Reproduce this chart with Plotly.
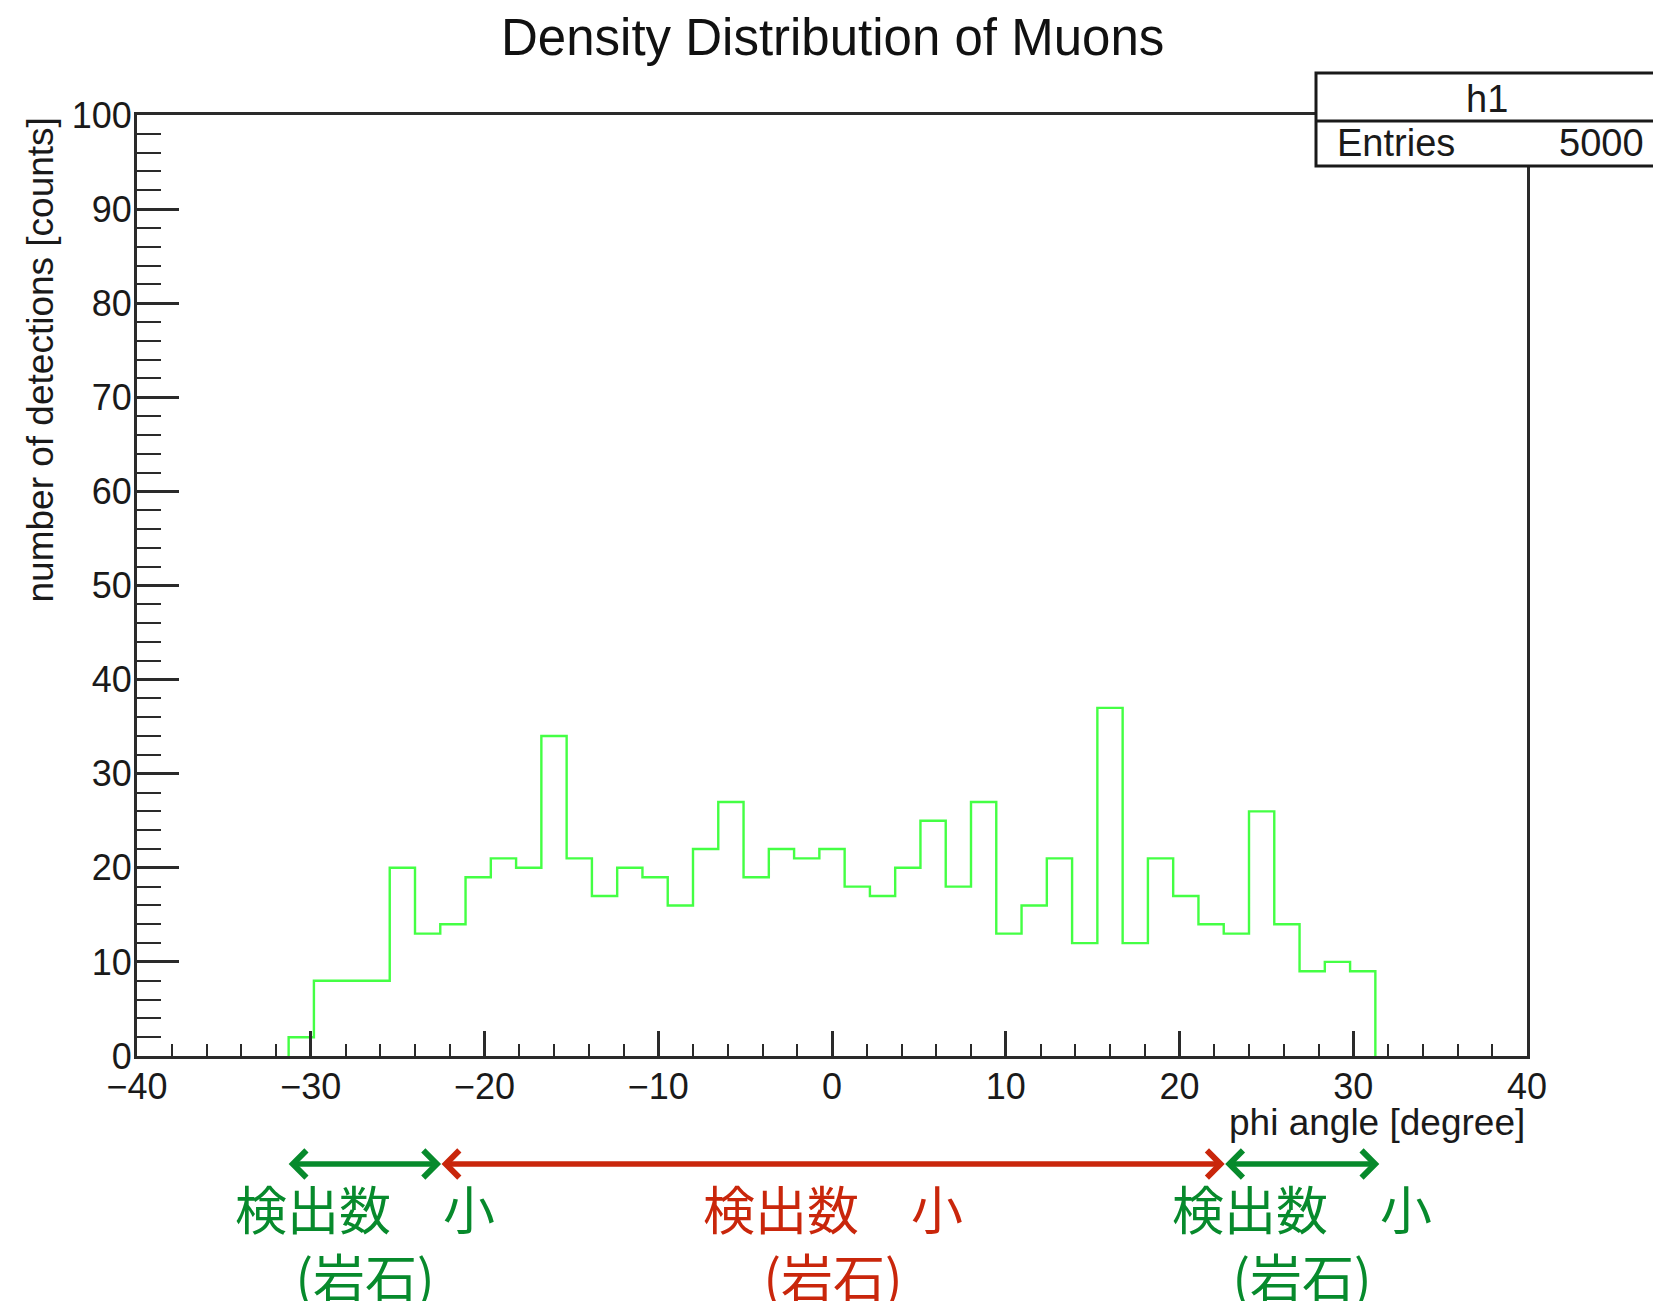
import plotly.graph_objects as go

# ---------------- data ----------------
x_min, x_max, n_bins = -40.0, 40.0, 55      # histogram definition
first_bin = 6                              # index of first non-empty bin
counts = [2, 8, 8, 8, 20, 13, 14, 19, 21, 20, 34, 21, 17, 20, 19, 16, 22, 27,
          19, 22, 21, 22, 18, 17, 20, 25, 18, 27, 13, 16, 21, 12, 37, 12, 21,
          17, 14, 13, 26, 14, 9, 10, 9]
hist_name = "h1"
entries = 5000
title_text = "Density Distribution of Muons"
x_title = "phi angle [degree]"
y_title = "number of detections [counts]"
region_edges = [-31.3, -22.5, 22.6, 31.5]
region_labels = ["検出数　小<br>(岩石)", "検出数　小<br>(岩石)", "検出数　小<br>(岩石)"]
region_colors = ["#078a2c", "#c9260b", "#078a2c"]

# ---------------- geometry ----------------
W, H = 1653, 1301
L, R, T, B = 137, 1527, 115, 1056


def px_x(px):
    return (px - L) / (R - L)


def px_y(py):
    return (B - py) / (B - T)


bw = (x_max - x_min) / n_bins
edges = [x_min + (first_bin + i) * bw for i in range(len(counts) + 1)]
xs = [edges[0]] + edges[:-1] + [edges[-1]]
ys = [0] + counts + [0]

fig = go.Figure()
fig.add_trace(go.Scatter(x=xs, y=ys, mode="lines", line_shape="hv",
                         line=dict(color="#44ff44", width=2.4),
                         hoverinfo="skip", showlegend=False))

axis_col = "#2a2a2a"
tick_font = dict(family="Liberation Sans, Arial, sans-serif", size=36, color="#1a1a1a")
fig.update_xaxes(range=[x_min, x_max], showline=True, linecolor=axis_col, linewidth=3,
                 mirror=True, ticks="inside", ticklen=25, tickwidth=2.5, tickcolor=axis_col,
                 tick0=0, dtick=10, showgrid=False, zeroline=False, tickfont=tick_font,
                 ticklabelstandoff=-3,
                 minor=dict(dtick=2, ticklen=12, tickwidth=2, tickcolor=axis_col,
                            ticks="inside", showgrid=False))
fig.update_yaxes(range=[0, 100], showline=True, linecolor=axis_col, linewidth=3,
                 mirror=True, ticks="inside", ticklen=42, tickwidth=2.5, tickcolor=axis_col,
                 tick0=0, dtick=10, showgrid=False, zeroline=False, tickfont=tick_font,
                 ticklabelstandoff=-5,
                 minor=dict(dtick=2, ticklen=24, tickwidth=2, tickcolor=axis_col,
                            ticks="inside", showgrid=False))

annotations = []
shapes = []
txt_font = "Liberation Sans, Arial, sans-serif"

# title
annotations.append(dict(text=title_text, x=px_x(833), y=px_y(37), xref="paper", yref="paper",
                        xanchor="center", yanchor="middle", showarrow=False,
                        font=dict(family=txt_font, size=51, color="#111111")))
# axis titles
annotations.append(dict(text=y_title, x=px_x(40), y=px_y(116), xref="paper", yref="paper",
                        xanchor="center", yanchor="top", textangle=-90, showarrow=False,
                        font=dict(family=txt_font, size=37, color="#1a1a1a")))
annotations.append(dict(text=x_title, x=px_x(1527), y=px_y(1122), xref="paper", yref="paper",
                        xanchor="right", yanchor="middle", showarrow=False,
                        font=dict(family=txt_font, size=37, color="#1a1a1a")))

# stats box
shapes.append(dict(type="rect", xref="paper", yref="paper", x0=px_x(1316), x1=px_x(1720),
                   y0=px_y(166), y1=px_y(73), fillcolor="white",
                   line=dict(color="#1a1a1a", width=3), layer="above"))
shapes.append(dict(type="line", xref="paper", yref="paper", x0=px_x(1316), x1=px_x(1720),
                   y0=px_y(121), y1=px_y(121), line=dict(color="#1a1a1a", width=3),
                   layer="above"))
annotations.append(dict(text=hist_name, x=px_x(1487), y=px_y(99), xref="paper", yref="paper",
                        xanchor="center", yanchor="middle", showarrow=False,
                        font=dict(family=txt_font, size=38, color="#1a1a1a")))
annotations.append(dict(text="Entries", x=px_x(1335), y=px_y(143), xref="paper", yref="paper",
                        xanchor="left", yanchor="middle", showarrow=False,
                        font=dict(family=txt_font, size=38, color="#1a1a1a")))
annotations.append(dict(text=str(entries), x=px_x(1646), y=px_y(143), xref="paper",
                        yref="paper", xanchor="right", yanchor="middle", showarrow=False,
                        font=dict(family=txt_font, size=38, color="#1a1a1a")))

# region arrows and labels
for i in range(3):
    a, b = region_edges[i], region_edges[i + 1]
    annotations.append(dict(text="", x=b, y=px_y(1164), ax=a, ay=0, xref="x", yref="paper",
                            axref="x", ayref="pixel", showarrow=True, arrowhead=4,
                            startarrowhead=4, arrowside="end+start", arrowwidth=5.5,
                            arrowsize=0.95, startarrowsize=0.95, arrowcolor=region_colors[i],
                            standoff=0, startstandoff=0, borderpad=0))
    annotations.append(dict(text=region_labels[i], x=(a + b) / 2, y=px_y(1241), xref="x",
                            yref="paper", xanchor="center", yanchor="middle", align="center",
                            showarrow=False,
                            font=dict(family="Noto Sans CJK JP", size=52,
                                      color=region_colors[i])))

fig.update_layout(width=W, height=H, margin=dict(l=L, r=W - R, t=T, b=H - B),
                  paper_bgcolor="white", plot_bgcolor="white",
                  annotations=annotations, shapes=shapes, showlegend=False)

fig.write_html("out.html")
